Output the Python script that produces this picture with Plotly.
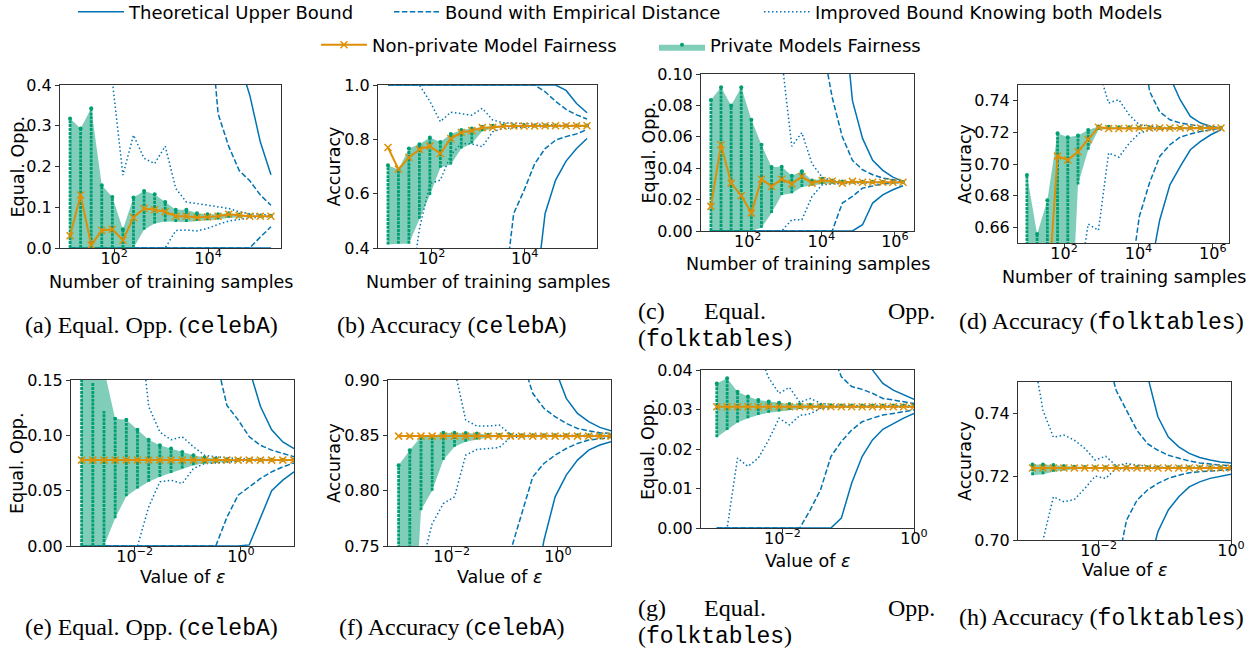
import plotly.graph_objects as go

W, H = 1256, 649
BLUE = "#0173B2"
ORANGE = "#DE8F05"
GREEN = "#029E73"
BAND = "rgba(2,158,115,0.5)"
FONT = "DejaVu Sans"
SERIF = "Liberation Serif"
MONO = "Liberation Mono"

# ---------------- x values ----------------
N_CELEBA = [11.5, 19.3, 32.4, 54.5, 91.5, 153.7, 258, 434, 729, 1224, 2056, 3453,
            5800, 9745, 16370, 27500, 46200, 77600, 130400, 219000]
N_FOLK = [10, 18.8, 35.4, 66.7, 125.6, 236.5, 445, 838, 1577, 2969, 5589, 10522,
          19810, 37290, 70200, 132200, 248800, 468400, 881800, 1660000]
EPS_CELEBA = [0.001, 0.001624, 0.002637, 0.004281, 0.006952, 0.01129, 0.01833, 0.02976,
              0.04833, 0.07848, 0.1274, 0.2069, 0.336, 0.5456, 0.8859, 1.438, 2.336,
              3.793, 6.158, 10.0]
EPS_FOLK = [0.001, 0.001438, 0.002069, 0.002976, 0.004281, 0.006158, 0.008859, 0.01274,
            0.01833, 0.02637, 0.03793, 0.05456, 0.07848, 0.1129, 0.1624, 0.2336, 0.336,
            0.4833, 0.6952, 1.0]

# ---------------- (a) Equal. Opp. celebA vs n ----------------
A_NONPRIV = [0.030, 0.130, 0.007, 0.043, 0.046, 0.019, 0.075, 0.097, 0.094, 0.089, 0.078, 0.078, 0.075, 0.076, 0.078, 0.083, 0.080, 0.078, 0.078, 0.078]
A_PRIV_HI = [0.318, 0.293, 0.343, 0.154, 0.125, 0.046, 0.124, 0.140, 0.132, 0.113, 0.094, 0.094, 0.085, 0.083, 0.083, 0.085, 0.082, 0.080, 0.079, 0.079]
A_PRIV_LO = [0.0, 0.0, 0.0, 0.0, 0.0, 0.0, 0.0, 0.045, 0.060, 0.065, 0.064, 0.064, 0.066, 0.068, 0.070, 0.074, 0.075, 0.076, 0.077, 0.077]
A_THEO_UP = [2.0, 2.0, 2.0, 2.0, 2.0, 2.0, 2.0, 2.0, 1.9, 1.7, 1.5, 1.3, 1.1, 0.9, 0.75, 0.6, 0.458, 0.375, 0.26, 0.18]
A_THEO_LO = [0.0, 0.0, 0.0, 0.0, 0.0, 0.0, 0.0, 0.0, 0.0, 0.0, 0.0, 0.0, 0.0, 0.0, 0.0, 0.0, 0.0, 0.0, 0.0, 0.0]
A_EMP_UP = [2.0, 2.0, 2.0, 2.0, 2.0, 2.0, 2.0, 1.8, 1.6, 1.4, 1.2, 1.0, 0.8, 0.63, 0.33, 0.25, 0.19, 0.165, 0.13, 0.105]
A_EMP_LO = [0.0, 0.0, 0.0, 0.0, 0.0, 0.0, 0.0, 0.0, 0.0, 0.0, 0.0, 0.0, 0.0, 0.0, 0.0, 0.0, 0.0, 0.0, 0.027, 0.052]
A_IMP_UP = [1.5, 1.2, 0.9, 0.6, 0.41, 0.179, 0.277, 0.220, 0.207, 0.250, 0.146, 0.113, 0.109, 0.105, 0.101, 0.097, 0.089, 0.084, 0.083, 0.080]
A_IMP_LO = [0.0, 0.0, 0.0, 0.0, 0.0, 0.0, 0.0, 0.0, 0.0, 0.0, 0.043, 0.044, 0.042, 0.048, 0.058, 0.066, 0.070, 0.074, 0.076, 0.077]

# ---------------- (b) Accuracy celebA vs n ----------------
B_NONPRIV = [0.770, 0.690, 0.733, 0.763, 0.775, 0.748, 0.803, 0.825, 0.832, 0.843, 0.844, 0.848, 0.849, 0.849, 0.849, 0.850, 0.850, 0.850, 0.850, 0.850]
B_PRIV_HI = [0.705, 0.688, 0.766, 0.782, 0.807, 0.790, 0.820, 0.834, 0.840, 0.846, 0.850, 0.851, 0.851, 0.851, 0.851, 0.851, 0.851, 0.851, 0.851, 0.851]
B_PRIV_LO = [0.413, 0.416, 0.416, 0.508, 0.595, 0.695, 0.707, 0.766, 0.785, 0.830, 0.840, 0.845, 0.847, 0.848, 0.848, 0.848, 0.848, 0.848, 0.848, 0.848]
B_THEO_UP = [1.0, 1.0, 1.0, 1.0, 1.0, 1.0, 1.0, 1.0, 1.0, 1.0, 1.0, 1.0, 1.0, 1.0, 1.0, 1.0, 1.0, 0.98, 0.932, 0.898]
B_THEO_LO = [0.0, 0.0, 0.0, 0.0, 0.0, 0.0, 0.0, 0.0, 0.0, 0.0, 0.0, 0.05, 0.1, 0.15, 0.2, 0.527, 0.65, 0.72, 0.766, 0.803]
B_EMP_UP = [1.0, 1.0, 1.0, 1.0, 1.0, 1.0, 1.0, 1.0, 1.0, 1.0, 1.0, 1.0, 1.0, 1.0, 1.0, 0.975, 0.94, 0.91, 0.89, 0.875]
B_EMP_LO = [0.0, 0.0, 0.0, 0.0, 0.0, 0.0, 0.0, 0.0, 0.0, 0.05, 0.12, 0.2, 0.527, 0.613, 0.71, 0.766, 0.797, 0.81, 0.82, 0.836]
B_IMP_UP = [1.0, 1.0, 1.0, 1.0, 0.94, 0.865, 0.900, 0.895, 0.889, 0.914, 0.871, 0.861, 0.859, 0.857, 0.855, 0.853, 0.852, 0.851, 0.851, 0.850]
B_IMP_LO = [0.1, 0.15, 0.2, 0.47, 0.637, 0.650, 0.742, 0.785, 0.783, 0.773, 0.828, 0.840, 0.843, 0.845, 0.846, 0.847, 0.848, 0.848, 0.849, 0.849]

# ---------------- (c) Equal. Opp. folktables vs n ----------------
C_NONPRIV = [0.0157, 0.0549, 0.0305, 0.0225, 0.0114, 0.0330, 0.0284, 0.0330, 0.0300, 0.0347, 0.0305, 0.0322, 0.0318, 0.0305, 0.0316, 0.0310, 0.0310, 0.0310, 0.0310, 0.0310]
C_PRIV_HI = [0.0835, 0.0915, 0.0800, 0.0915, 0.0708, 0.0549, 0.0407, 0.0410, 0.0352, 0.0380, 0.0322, 0.0333, 0.0322, 0.0316, 0.0315, 0.0314, 0.0313, 0.0312, 0.0312, 0.0312]
C_PRIV_LO = [0.0, 0.0, 0.0, 0.0, 0.0, 0.002, 0.0114, 0.0230, 0.0240, 0.0280, 0.0290, 0.0300, 0.0302, 0.0304, 0.0305, 0.0306, 0.0306, 0.0307, 0.0307, 0.0307]
C_THEO_UP = [1.0, 1.0, 1.0, 1.0, 1.0, 1.0, 1.0, 1.0, 0.9, 0.7, 0.5, 0.35, 0.25, 0.15, 0.083, 0.059, 0.045, 0.0386, 0.0343, 0.0316]
C_THEO_LO = [0.0, 0.0, 0.0, 0.0, 0.0, 0.0, 0.0, 0.0, 0.0, 0.0, 0.0, 0.0, 0.0, 0.0, 0.0, 0.004, 0.0178, 0.0230, 0.0263, 0.0288]
C_EMP_UP = [1.0, 1.0, 1.0, 1.0, 1.0, 1.0, 1.0, 1.0, 0.5, 0.3, 0.2, 0.12, 0.085, 0.060, 0.045, 0.039, 0.0358, 0.0337, 0.0326, 0.0316]
C_EMP_LO = [0.0, 0.0, 0.0, 0.0, 0.0, 0.0, 0.0, 0.0, 0.0, 0.0, 0.0, 0.0, 0.0, 0.0178, 0.0220, 0.0273, 0.0288, 0.0300, 0.0305, 0.0310]
C_IMP_UP = [1.0, 1.0, 1.0, 1.0, 0.8, 0.5, 0.3, 0.11, 0.054, 0.0627, 0.0428, 0.0343, 0.0320, 0.0315, 0.0313, 0.0312, 0.0311, 0.0310, 0.0310, 0.0310]
C_IMP_LO = [0.0, 0.0, 0.0, 0.0, 0.0, 0.0, 0.0, 0.0, 0.0072, 0.0072, 0.0220, 0.0294, 0.0300, 0.0303, 0.0305, 0.0306, 0.0307, 0.0307, 0.0308, 0.0308]

# ---------------- (d) Accuracy folktables vs n ----------------
D_NONPRIV = [0.620, 0.600, 0.610, 0.7050, 0.7025, 0.7078, 0.7156, 0.7232, 0.7225, 0.7225, 0.7226, 0.7228, 0.7228, 0.7228, 0.7228, 0.7228, 0.7228, 0.7228, 0.7228, 0.7228]
D_PRIV_HI = [0.693, 0.6557, 0.677, 0.7195, 0.717, 0.718, 0.7215, 0.7238, 0.7235, 0.7233, 0.7232, 0.7231, 0.7231, 0.7230, 0.7230, 0.7230, 0.7230, 0.7230, 0.7230, 0.7230]
D_PRIV_LO = [0.55, 0.55, 0.55, 0.55, 0.55, 0.687, 0.709, 0.7215, 0.7222, 0.7222, 0.7223, 0.7224, 0.7225, 0.7226, 0.7226, 0.7226, 0.7226, 0.7226, 0.7226, 0.7226]
D_THEO_UP = [1.0, 1.0, 1.0, 1.0, 1.0, 1.0, 1.0, 1.0, 1.0, 1.0, 1.0, 1.0, 1.0, 1.0, 0.755, 0.7407, 0.7301, 0.7259, 0.7238, 0.7228]
D_THEO_LO = [0.4, 0.4, 0.4, 0.4, 0.4, 0.4, 0.4, 0.4, 0.4, 0.4, 0.4, 0.4, 0.63, 0.6646, 0.6868, 0.6984, 0.7090, 0.7143, 0.7185, 0.7217]
D_EMP_UP = [1.0, 1.0, 1.0, 1.0, 1.0, 1.0, 1.0, 1.0, 1.0, 1.0, 1.0, 0.80, 0.746, 0.733, 0.728, 0.726, 0.7248, 0.7238, 0.7232, 0.7228]
D_EMP_LO = [0.4, 0.4, 0.4, 0.4, 0.4, 0.4, 0.4, 0.4, 0.4, 0.4, 0.62, 0.6667, 0.688, 0.7048, 0.7122, 0.7170, 0.7190, 0.7206, 0.7217, 0.7227]
D_IMP_UP = [1.0, 1.0, 1.0, 1.0, 1.0, 1.0, 1.0, 0.76, 0.7386, 0.7407, 0.7312, 0.7248, 0.7238, 0.7232, 0.7230, 0.7230, 0.7230, 0.7229, 0.7229, 0.7229]
D_IMP_LO = [0.4, 0.4, 0.4, 0.4, 0.4, 0.62, 0.662, 0.658, 0.707, 0.7043, 0.713, 0.7195, 0.7215, 0.7220, 0.7222, 0.7224, 0.7225, 0.7226, 0.7226, 0.7227]

# ---------------- (e) Equal. Opp. celebA vs eps ----------------
E_NONPRIV = [0.0776, 0.0776, 0.0776, 0.0776, 0.0776, 0.0776, 0.0776, 0.0776, 0.0776, 0.0776, 0.0776, 0.0776, 0.0776, 0.0776, 0.0776, 0.0776, 0.0776, 0.0776, 0.0776, 0.0776]
E_PRIV_HI = [0.25, 0.20, 0.16, 0.115, 0.114, 0.105, 0.096, 0.091, 0.088, 0.085, 0.082, 0.080, 0.079, 0.0785, 0.078, 0.078, 0.078, 0.078, 0.078, 0.078]
E_PRIV_LO = [0.0, 0.0, 0.0, 0.025, 0.045, 0.052, 0.058, 0.0625, 0.066, 0.070, 0.073, 0.0745, 0.0755, 0.076, 0.0768, 0.077, 0.0772, 0.0773, 0.0774, 0.0775]
E_DOTS_HI = [0.16, 0.148, 0.122, 0.113, 0.113, 0.104, 0.095, 0.090, 0.087, 0.084, 0.081, 0.080, 0.079, 0.0785, 0.078, 0.078, 0.078, 0.078, 0.078, 0.078]
E_THEO_UP = [1.0, 1.0, 1.0, 1.0, 1.0, 1.0, 1.0, 1.0, 1.0, 1.0, 1.0, 1.0, 1.0, 1.0, 1.0, 0.16, 0.126, 0.105, 0.094, 0.088]
E_THEO_LO = [0.0, 0.0, 0.0, 0.0, 0.0, 0.0, 0.0, 0.0, 0.0, 0.0, 0.0, 0.0, 0.0, 0.0, 0.0, 0.001, 0.026, 0.050, 0.0595, 0.067]
E_EMP_UP = [1.0, 1.0, 1.0, 1.0, 1.0, 1.0, 1.0, 1.0, 1.0, 1.0, 0.6, 0.3, 0.17, 0.127, 0.114, 0.0987, 0.091, 0.0866, 0.0836, 0.0806]
E_EMP_LO = [0.0, 0.0, 0.0, 0.0, 0.0, 0.0, 0.0, 0.0, 0.0, 0.0, 0.0, 0.0, 0.0, 0.026, 0.0459, 0.0534, 0.061, 0.067, 0.0715, 0.075]
E_IMP_UP = [1.0, 1.0, 1.0, 0.8, 0.5, 0.22, 0.126, 0.103, 0.096, 0.0987, 0.0896, 0.082, 0.0806, 0.0795, 0.079, 0.0785, 0.078, 0.078, 0.078, 0.078]
E_IMP_LO = [0.0, 0.0, 0.0, 0.0, 0.0, 0.0, 0.0353, 0.058, 0.0595, 0.0564, 0.070, 0.0745, 0.075, 0.076, 0.0765, 0.077, 0.077, 0.0772, 0.0773, 0.0774]

# ---------------- (f) Accuracy celebA vs eps ----------------
F_NONPRIV = [0.8493, 0.8493, 0.8493, 0.8493, 0.8493, 0.8493, 0.8493, 0.8493, 0.8493, 0.8493, 0.8493, 0.8493, 0.8493, 0.8493, 0.8493, 0.8493, 0.8493, 0.8493, 0.8493, 0.8493]
F_PRIV_HI = [0.823, 0.8366, 0.8487, 0.849, 0.8523, 0.8523, 0.852, 0.8517, 0.8505, 0.8503, 0.8502, 0.8501, 0.850, 0.850, 0.850, 0.850, 0.850, 0.850, 0.850, 0.850]
F_PRIV_LO = [0.60, 0.60, 0.7823, 0.800, 0.8276, 0.8396, 0.8442, 0.8463, 0.848, 0.8485, 0.8487, 0.8488, 0.8489, 0.849, 0.849, 0.849, 0.849, 0.849, 0.849, 0.849]
F_THEO_UP = [1.0, 1.0, 1.0, 1.0, 1.0, 1.0, 1.0, 1.0, 1.0, 1.0, 1.0, 1.0, 1.0, 1.0, 0.91, 0.8834, 0.8698, 0.8623, 0.8572, 0.8541]
F_THEO_LO = [0.6, 0.6, 0.6, 0.6, 0.6, 0.6, 0.6, 0.6, 0.6, 0.6, 0.6, 0.6, 0.70, 0.755, 0.7944, 0.814, 0.8276, 0.8366, 0.8412, 0.8442]
F_EMP_UP = [1.0, 1.0, 1.0, 1.0, 1.0, 1.0, 1.0, 1.0, 1.0, 1.0, 1.0, 0.92, 0.888, 0.8744, 0.8668, 0.8608, 0.8562, 0.8541, 0.8523, 0.8517]
F_EMP_LO = [0.6, 0.6, 0.6, 0.6, 0.6, 0.6, 0.6, 0.6, 0.6, 0.6, 0.745, 0.7793, 0.8125, 0.8246, 0.8321, 0.8381, 0.8427, 0.8457, 0.8472, 0.8481]
F_IMP_UP = [1.0, 1.0, 1.0, 1.0, 1.0, 0.91, 0.8638, 0.8584, 0.8584, 0.8593, 0.8511, 0.8502, 0.850, 0.850, 0.850, 0.850, 0.850, 0.850, 0.850, 0.850]
F_IMP_LO = [0.6, 0.6, 0.73, 0.7702, 0.7883, 0.7944, 0.8321, 0.8372, 0.8381, 0.839, 0.8481, 0.8487, 0.849, 0.849, 0.849, 0.849, 0.849, 0.849, 0.849, 0.849]

# ---------------- (g) Equal. Opp. folktables vs eps ----------------
G_NONPRIV = [0.0307, 0.0307, 0.0307, 0.0307, 0.0307, 0.0307, 0.0307, 0.0307, 0.0307, 0.0307, 0.0307, 0.0307, 0.0307, 0.0307, 0.0307, 0.0307, 0.0307, 0.0307, 0.0307, 0.0307]
G_PRIV_HI = [0.0366, 0.0379, 0.0345, 0.0333, 0.0324, 0.0320, 0.0317, 0.0314, 0.0313, 0.0312, 0.0311, 0.0311, 0.0310, 0.0310, 0.0310, 0.0310, 0.0310, 0.0310, 0.0310, 0.0310]
G_PRIV_LO = [0.0230, 0.0248, 0.0267, 0.0278, 0.0286, 0.0292, 0.0295, 0.0299, 0.0301, 0.0303, 0.0304, 0.0305, 0.0305, 0.0305, 0.0306, 0.0306, 0.0306, 0.0306, 0.0306, 0.0306]
G_THEO_UP = [1.0, 1.0, 1.0, 1.0, 1.0, 1.0, 1.0, 1.0, 1.0, 1.0, 1.0, 1.0, 1.0, 0.07, 0.048, 0.040, 0.0366, 0.0349, 0.0337, 0.0326]
G_THEO_LO = [0.0, 0.0, 0.0, 0.0, 0.0, 0.0, 0.0, 0.0, 0.0, 0.0, 0.0, 0.0, 0.0025, 0.0114, 0.0181, 0.0223, 0.0250, 0.0265, 0.0278, 0.0290]
G_EMP_UP = [1.0, 1.0, 1.0, 1.0, 1.0, 1.0, 1.0, 1.0, 1.0, 1.0, 1.0, 0.045, 0.0383, 0.0358, 0.0351, 0.0341, 0.0328, 0.0324, 0.0319, 0.0315]
G_EMP_LO = [0.0, 0.0, 0.0, 0.0, 0.0, 0.0, 0.0, 0.0, 0.0, 0.0046, 0.0097, 0.0181, 0.0219, 0.0248, 0.0269, 0.0278, 0.0286, 0.0290, 0.0295, 0.0299]
G_IMP_UP = [1.0, 1.0, 1.0, 1.0, 0.045, 0.038, 0.0341, 0.0356, 0.0318, 0.0328, 0.0316, 0.0312, 0.0311, 0.0310, 0.0310, 0.0310, 0.0310, 0.0310, 0.0310, 0.0310]
G_IMP_LO = [0.0, 0.0, 0.0177, 0.0156, 0.0177, 0.0223, 0.0278, 0.0261, 0.0285, 0.0289, 0.0303, 0.0305, 0.0306, 0.0306, 0.0306, 0.0306, 0.0306, 0.0306, 0.0306, 0.0306]

# ---------------- (h) Accuracy folktables vs eps ----------------
H_NONPRIV = [0.7228, 0.7228, 0.7228, 0.7228, 0.7228, 0.7228, 0.7228, 0.7228, 0.7228, 0.7228, 0.7228, 0.7228, 0.7228, 0.7228, 0.7228, 0.7228, 0.7228, 0.7228, 0.7228, 0.7228]
H_PRIV_HI = [0.7239, 0.7239, 0.7237, 0.7234, 0.7232, 0.7231, 0.7230, 0.7230, 0.7230, 0.7230, 0.7230, 0.7230, 0.7230, 0.7230, 0.7230, 0.7230, 0.7230, 0.7230, 0.7230, 0.7230]
H_PRIV_LO = [0.7205, 0.7208, 0.7216, 0.7221, 0.7224, 0.7225, 0.7226, 0.7226, 0.7226, 0.7226, 0.7226, 0.7226, 0.7226, 0.7226, 0.7226, 0.7226, 0.7226, 0.7226, 0.7226, 0.7226]
H_THEO_UP = [1.0, 1.0, 1.0, 1.0, 1.0, 1.0, 1.0, 1.0, 1.0, 1.0, 1.0, 0.752, 0.739, 0.7326, 0.7295, 0.7274, 0.7261, 0.7253, 0.7247, 0.7244]
H_THEO_LO = [0.6, 0.6, 0.6, 0.6, 0.6, 0.6, 0.6, 0.6, 0.6, 0.6, 0.6, 0.69, 0.7026, 0.7095, 0.7137, 0.7168, 0.7184, 0.7195, 0.7202, 0.7208]
H_EMP_UP = [1.0, 1.0, 1.0, 1.0, 1.0, 1.0, 1.0, 0.76, 0.7474, 0.741, 0.7347, 0.7305, 0.7284, 0.7268, 0.7258, 0.7250, 0.7244, 0.7240, 0.7237, 0.7235]
H_EMP_LO = [0.6, 0.6, 0.6, 0.6, 0.6, 0.6, 0.6, 0.6, 0.69, 0.7063, 0.7126, 0.7158, 0.7179, 0.7195, 0.7205, 0.7213, 0.7216, 0.7219, 0.7221, 0.7223]
H_IMP_UP = [0.76, 0.741, 0.7325, 0.7332, 0.7316, 0.7290, 0.7253, 0.7265, 0.7235, 0.7242, 0.7237, 0.7233, 0.7230, 0.7230, 0.7230, 0.7230, 0.7230, 0.7230, 0.7230, 0.7230]
H_IMP_LO = [0.69, 0.70, 0.7137, 0.7121, 0.7128, 0.7163, 0.7202, 0.7195, 0.7226, 0.7224, 0.7226, 0.7227, 0.7227, 0.7227, 0.7227, 0.7227, 0.7227, 0.7227, 0.7227, 0.7227]

# ---------------- tick labels / titles ----------------
XT_N2 = ([1e2, 1e4], ["10<sup>2</sup>", "10<sup>4</sup>"])
XT_N3 = ([1e2, 1e4, 1e6], ["10<sup>2</sup>", "10<sup>4</sup>", "10<sup>6</sup>"])
XT_E = ([1e-2, 1e0], ["10<sup>\u22122</sup>", "10<sup>0</sup>"])
XT_N_TITLE = "Number of training samples"
XT_E_TITLE = "Value of <i>\u03b5</i>"

PANELS = [
    dict(n=1, box=(60, 281, 85, 248), x=N_CELEBA, xr=(0.846, 5.555), xt=XT_N2,
         yr=(0, 0.4), yt=[0.0, 0.1, 0.2, 0.3, 0.4], yfmt="{:.1f}", ytitle="Equal. Opp.",
         ytx=17, xtitle=XT_N_TITLE, xty=282,
         d=(A_NONPRIV, A_PRIV_LO, A_PRIV_HI, A_PRIV_HI, A_THEO_UP, A_THEO_LO, A_EMP_UP, A_EMP_LO, A_IMP_UP, A_IMP_LO)),
    dict(n=2, box=(378, 597, 85, 248), x=N_CELEBA, xr=(0.846, 5.555), xt=XT_N2,
         yr=(0.4, 1.0), yt=[0.4, 0.6, 0.8, 1.0], yfmt="{:.1f}", ytitle="Accuracy",
         ytx=333, xtitle=XT_N_TITLE, xty=282,
         d=(B_NONPRIV, B_PRIV_LO, B_PRIV_HI, B_PRIV_HI, B_THEO_UP, B_THEO_LO, B_EMP_UP, B_EMP_LO, B_IMP_UP, B_IMP_LO)),
    dict(n=3, box=(701, 914, 74, 231), x=N_FOLK, xr=(0.73, 6.52), xt=XT_N3,
         yr=(0, 0.1), yt=[0.0, 0.02, 0.04, 0.06, 0.08, 0.10], yfmt="{:.2f}", ytitle="Equal. Opp.",
         ytx=648, xtitle=XT_N_TITLE, xty=264,
         d=(C_NONPRIV, C_PRIV_LO, C_PRIV_HI, C_PRIV_HI, C_THEO_UP, C_THEO_LO, C_EMP_UP, C_EMP_LO, C_IMP_UP, C_IMP_LO)),
    dict(n=4, box=(1018, 1229, 85, 243), x=N_FOLK, xr=(0.76, 6.435), xt=XT_N3,
         yr=(0.65, 0.75), yt=[0.66, 0.68, 0.70, 0.72, 0.74], yfmt="{:.2f}", ytitle="Accuracy",
         ytx=965, xtitle=XT_N_TITLE, xty=277,
         d=(D_NONPRIV, D_PRIV_LO, D_PRIV_HI, D_PRIV_HI, D_THEO_UP, D_THEO_LO, D_EMP_UP, D_EMP_LO, D_IMP_UP, D_IMP_LO)),
    dict(n=5, box=(71, 294, 380, 546), x=EPS_CELEBA, xr=(-3.2, 1.0), xt=XT_E,
         yr=(0, 0.15), yt=[0.0, 0.05, 0.10, 0.15], yfmt="{:.2f}", ytitle="Equal. Opp.",
         ytx=17, xtitle=XT_E_TITLE, xty=577,
         d=(E_NONPRIV, E_PRIV_LO, E_PRIV_HI, E_DOTS_HI, E_THEO_UP, E_THEO_LO, E_EMP_UP, E_EMP_LO, E_IMP_UP, E_IMP_LO)),
    dict(n=6, box=(388, 611, 380, 546), x=EPS_CELEBA, xr=(-3.2, 1.0), xt=XT_E,
         yr=(0.75, 0.90), yt=[0.75, 0.80, 0.85, 0.90], yfmt="{:.2f}", ytitle="Accuracy",
         ytx=334, xtitle=XT_E_TITLE, xty=577,
         d=(F_NONPRIV, F_PRIV_LO, F_PRIV_HI, F_PRIV_HI, F_THEO_UP, F_THEO_LO, F_EMP_UP, F_EMP_LO, F_IMP_UP, F_IMP_LO)),
    dict(n=7, box=(701, 914, 370, 528), x=EPS_FOLK, xr=(-3.24, 0.0), xt=XT_E,
         yr=(0, 0.04), yt=[0.0, 0.01, 0.02, 0.03, 0.04], yfmt="{:.2f}", ytitle="Equal. Opp.",
         ytx=648, xtitle=XT_E_TITLE, xty=561,
         d=(G_NONPRIV, G_PRIV_LO, G_PRIV_HI, G_PRIV_HI, G_THEO_UP, G_THEO_LO, G_EMP_UP, G_EMP_LO, G_IMP_UP, G_IMP_LO)),
    dict(n=8, box=(1018, 1231, 382, 540), x=EPS_FOLK, xr=(-3.22, 0.0), xt=XT_E,
         yr=(0.70, 0.75), yt=[0.70, 0.72, 0.74], yfmt="{:.2f}", ytitle="Accuracy",
         ytx=965, xtitle=XT_E_TITLE, xty=570,
         d=(H_NONPRIV, H_PRIV_LO, H_PRIV_HI, H_PRIV_HI, H_THEO_UP, H_THEO_LO, H_EMP_UP, H_EMP_LO, H_IMP_UP, H_IMP_LO)),
]

BOUND_STYLES = [
    ("Theoretical Upper Bound", "solid", "legend"),
    ("Bound with Empirical Distance", "5.5px,2.4px", "legend2"),
    ("Improved Bound Knowing both Models", "1.5px,2.5px", "legend3"),
]


def px(x):
    return x / W


def py(y):
    return 1 - y / H


fig = go.Figure()
layout = dict(width=W, height=H, margin=dict(l=0, r=0, t=0, b=0, autoexpand=False),
              paper_bgcolor="white", plot_bgcolor="white",
              font=dict(family=FONT, size=16, color="black"))
annotations = []

for p in PANELS:
    n = p["n"]
    sfx = "" if n == 1 else str(n)
    xa, ya = "x" + sfx, "y" + sfx
    X = p["x"]
    nonpriv, plo, phi, dhi, tu, tl, eu, el, iu, il = p["d"]
    first = n == 1

    for (name, dash, leg), up, lo in zip(BOUND_STYLES, (tu, eu, iu), (tl, el, il)):
        for k, ys in enumerate((up, lo)):
            fig.add_trace(go.Scatter(
                x=X, y=ys, mode="lines", name=name, legend=leg,
                showlegend=first and k == 0, legendgroup=name,
                line=dict(color=BLUE, width=1.5, dash=dash),
                xaxis=xa, yaxis=ya, hoverinfo="skip"))

    fig.add_trace(go.Scatter(x=X, y=plo, mode="lines", line=dict(width=0, color=GREEN),
                             showlegend=False, xaxis=xa, yaxis=ya, hoverinfo="skip"))
    fig.add_trace(go.Scatter(x=X, y=phi, mode="lines+markers", line=dict(width=0, color=GREEN),
                             marker=dict(size=4, color=GREEN),
                             fill="tonexty", fillcolor=BAND, name="Private Models Fairness",
                             legend="legend5", showlegend=first, xaxis=xa, yaxis=ya,
                             hoverinfo="skip"))
    dx, dy = [], []
    for xv, lo, hi in zip(X, plo, dhi):
        dx += [xv, xv, None]
        dy += [lo, hi, None]
    fig.add_trace(go.Scatter(x=dx, y=dy, mode="lines",
                             line=dict(color=GREEN, width=2.8, dash="3px,0.9px"),
                             showlegend=False, xaxis=xa, yaxis=ya, hoverinfo="skip"))
    fig.add_trace(go.Scatter(
        x=X, y=nonpriv, mode="lines+markers", name="Non-private Model Fairness",
        legend="legend4", showlegend=first,
        line=dict(color=ORANGE, width=2),
        marker=dict(symbol="x-thin", size=7, color=ORANGE, line=dict(color=ORANGE, width=1.5)),
        xaxis=xa, yaxis=ya, hoverinfo="skip"))

    x0, x1, yt, yb = p["box"]
    common = dict(showline=True, mirror=True, linecolor="#333333", linewidth=1,
                  ticks="outside", ticklen=4, tickwidth=1, tickcolor="#333333",
                  showgrid=False, zeroline=False,
                  tickfont=dict(family=FONT, size=16, color="black"))
    layout["xaxis" + sfx] = dict(type="log", range=list(p["xr"]), domain=[px(x0), px(x1)],
                                 anchor=ya, tickvals=p["xt"][0], ticktext=p["xt"][1],
                                 ticklabelstandoff=-8, **common)
    layout["yaxis" + sfx] = dict(range=list(p["yr"]), domain=[py(yb), py(yt)], anchor=xa,
                                 tickvals=p["yt"], ticktext=[p["yfmt"].format(v) for v in p["yt"]],
                                 **common)
    annotations.append(dict(x=px(p["ytx"]), y=py((yt + yb) / 2), xref="paper", yref="paper",
                            text=p["ytitle"], showarrow=False, textangle=-90,
                            font=dict(family=FONT, size=17.5, color="black"),
                            xanchor="center", yanchor="middle"))
    annotations.append(dict(x=px((x0 + x1) / 2), y=py(p["xty"]), xref="paper", yref="paper",
                            text=p["xtitle"], showarrow=False,
                            font=dict(family=FONT, size=17.5, color="black"),
                            xanchor="center", yanchor="middle"))

# ---------------- captions ----------------
def mono(s):
    return "<span style='font-family:%s;font-size:23px'>%s</span>" % (MONO, s)

CAP = dict(family=SERIF, size=24, color="black")
CAPTIONS = [
    (151, 326, "center", "(a) Equal. Opp. (" + mono("celebA") + ")"),
    (452, 326, "center", "(b) Accuracy (" + mono("celebA") + ")"),
    (636, 311, "left", "(c)"),
    (735, 311, "center", "Equal."),
    (937, 311, "right", "Opp."),
    (636, 339, "left", "(" + mono("folktables") + ")"),
    (1101, 322, "center", "(d) Accuracy (" + mono("folktables") + ")"),
    (151, 628, "center", "(e) Equal. Opp. (" + mono("celebA") + ")"),
    (452, 628, "center", "(f) Accuracy (" + mono("celebA") + ")"),
    (636, 608, "left", "(g)"),
    (735, 608, "center", "Equal."),
    (937, 608, "right", "Opp."),
    (636, 636, "left", "(" + mono("folktables") + ")"),
    (1101, 618, "center", "(h) Accuracy (" + mono("folktables") + ")"),
]
for x, y, anc, txt in CAPTIONS:
    annotations.append(dict(x=px(x), y=py(y), xref="paper", yref="paper", text=txt,
                            showarrow=False, xanchor=anc, yanchor="middle", font=CAP))

layout["annotations"] = annotations

# ---------------- legends ----------------
LEG_FONT = dict(family=FONT, size=18, color="black")
LEG_POS = {"legend": (73, 12), "legend2": (389, 12), "legend3": (759, 12),
           "legend4": (316, 45), "legend5": (654, 45)}
for key, (lx, ly) in LEG_POS.items():
    layout[key] = dict(x=px(lx), y=py(ly), xanchor="left", yanchor="middle",
                       orientation="h", font=LEG_FONT, bgcolor="rgba(0,0,0,0)",
                       borderwidth=0, itemwidth=46)

fig.update_layout(**layout)
fig.write_html("out.html")
